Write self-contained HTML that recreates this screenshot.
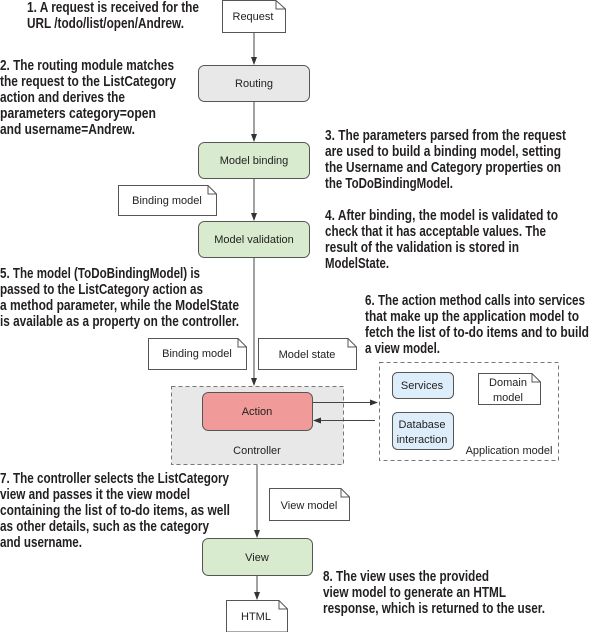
<!DOCTYPE html>
<html><head><meta charset="utf-8"><style>
html,body{margin:0;padding:0;background:#fff;}
svg{display:block}
.t{font-family:"Liberation Sans",sans-serif;font-weight:bold;font-size:14.5px;fill:#231f20}
.n{font-family:"Liberation Sans",sans-serif;font-size:11px;fill:#222}
</style></head><body>
<svg width="590" height="632" viewBox="0 0 590 632" xmlns="http://www.w3.org/2000/svg">
<defs>
<marker id="a" markerWidth="8" markerHeight="8" refX="7" refY="4" orient="auto" markerUnits="userSpaceOnUse">
<path d="M0,1 L8,4 L0,7 z" fill="#333"/></marker>
</defs>
<g stroke="#444" stroke-width="1" fill="none">
<line x1="254" y1="32" x2="254" y2="64" marker-end="url(#a)"/>
<line x1="254" y1="102" x2="254" y2="141" marker-end="url(#a)"/>
<line x1="254" y1="178" x2="254" y2="220" marker-end="url(#a)"/>
<line x1="254" y1="257" x2="254" y2="385" marker-end="url(#a)"/>
<line x1="257" y1="464" x2="257" y2="537" marker-end="url(#a)"/>
<line x1="257" y1="575" x2="257" y2="599" marker-end="url(#a)"/>
</g>
<!-- boxes -->
<rect x="198.5" y="65.5" width="111" height="36" rx="6" fill="#e8e8e8" stroke="#555"/>
<rect x="198.5" y="142.5" width="111" height="36" rx="6" fill="#d9ebcf" stroke="#555"/>
<rect x="198.5" y="221.5" width="111" height="36" rx="6" fill="#d9ebcf" stroke="#555"/>
<rect x="171.5" y="386.5" width="172" height="78" fill="#e8e8e8" stroke="#777" stroke-dasharray="4,3"/>
<rect x="202.5" y="392.5" width="110" height="38" rx="6" fill="#f19a9a" stroke="#555"/>
<rect x="379.5" y="362.5" width="179" height="98" fill="#fff" stroke="#777" stroke-dasharray="4,3"/>
<rect x="392.5" y="372.5" width="61" height="26" rx="5" fill="#ddeefa" stroke="#555"/>
<rect x="392.5" y="412.5" width="61" height="37" rx="5" fill="#ddeefa" stroke="#555"/>
<rect x="202.5" y="538.5" width="110" height="37" rx="6" fill="#d9ebcf" stroke="#555"/>
<line x1="313" y1="402.5" x2="377" y2="402.5" stroke="#444" marker-end="url(#a)"/>
<line x1="375" y1="420.5" x2="314" y2="420.5" stroke="#444" marker-end="url(#a)"/>
<!-- notes -->
<g stroke="#555" stroke-width="1" fill="#fff">
<path d="M222.5,0.5 H276 L285.5,9 V32.5 H222.5 Z M276,0.5 V9 H285.5"/>
<path d="M118.5,185.5 H208 L216.5,194 V215.5 H118.5 Z M208,185.5 V194 H216.5"/>
<path d="M148.5,338.5 H238 L246.5,347 V369.5 H148.5 Z M238,338.5 V347 H246.5"/>
<path d="M258.5,338.5 H348 L356.5,347 V369.5 H258.5 Z M348,338.5 V347 H356.5"/>
<path d="M478.5,373.5 H532 L540.5,382 V404.5 H478.5 Z M532,373.5 V382 H540.5"/>
<path d="M269.5,488.5 H341 L349.5,497 V520.5 H269.5 Z M341,488.5 V497 H349.5"/>
<path d="M226.5,600.5 H279 L287.5,609 V632 H226.5 Z M279,600.5 V609 H287.5"/>
</g>
<!-- node labels -->
<g class="n" text-anchor="middle">
<text x="253" y="20">Request</text>
<text x="254" y="87">Routing</text>
<text x="254" y="164">Model binding</text>
<text x="254" y="243">Model validation</text>
<text x="167" y="204">Binding model</text>
<text x="197" y="357">Binding model</text>
<text x="307" y="358">Model state</text>
<text x="257" y="415">Action</text>
<text x="257" y="454">Controller</text>
<text x="422" y="389">Services</text>
<text x="422" y="428">Database</text>
<text x="422" y="443">interaction</text>
<text x="508" y="386">Domain</text>
<text x="508" y="401">model</text>
<text x="509" y="454">Application model</text>
<text x="309" y="509">View model</text>
<text x="257" y="561">View</text>
<text x="256" y="620">HTML</text>
</g>
<!-- explanatory text -->
<g class="t" lengthAdjust="spacingAndGlyphs">
<text x="27" y="12" textLength="172" lengthAdjust="spacingAndGlyphs">1. A request is received for the</text>
<text x="27" y="28" textLength="157" lengthAdjust="spacingAndGlyphs">URL /todo/list/open/Andrew.</text>
<text x="0" y="70" textLength="174" lengthAdjust="spacingAndGlyphs">2. The routing module matches</text>
<text x="0" y="86" textLength="176" lengthAdjust="spacingAndGlyphs">the request to the ListCategory</text>
<text x="0" y="102" textLength="125" lengthAdjust="spacingAndGlyphs">action and derives the</text>
<text x="0" y="118" textLength="156" lengthAdjust="spacingAndGlyphs">parameters category=open</text>
<text x="0" y="134" textLength="135" lengthAdjust="spacingAndGlyphs">and username=Andrew.</text>
<text x="325" y="140" textLength="241" lengthAdjust="spacingAndGlyphs">3. The parameters parsed from the request</text>
<text x="325" y="156" textLength="236" lengthAdjust="spacingAndGlyphs">are used to build a binding model, setting</text>
<text x="325" y="172" textLength="236" lengthAdjust="spacingAndGlyphs">the Username and Category properties on</text>
<text x="325" y="188" textLength="128" lengthAdjust="spacingAndGlyphs">the ToDoBindingModel.</text>
<text x="325" y="220" textLength="233" lengthAdjust="spacingAndGlyphs">4. After binding, the model is validated to</text>
<text x="325" y="236" textLength="221" lengthAdjust="spacingAndGlyphs">check that it has acceptable values. The</text>
<text x="325" y="252" textLength="194" lengthAdjust="spacingAndGlyphs">result of the validation is stored in</text>
<text x="325" y="268" textLength="64" lengthAdjust="spacingAndGlyphs">ModelState.</text>
<text x="0" y="278" textLength="200" lengthAdjust="spacingAndGlyphs">5. The model (ToDoBindingModel) is</text>
<text x="0" y="294" textLength="203" lengthAdjust="spacingAndGlyphs">passed to the ListCategory action as</text>
<text x="0" y="310" textLength="239" lengthAdjust="spacingAndGlyphs">a method parameter, while the ModelState</text>
<text x="0" y="326" textLength="239" lengthAdjust="spacingAndGlyphs">is available as a property on the controller.</text>
<text x="365" y="305" textLength="220" lengthAdjust="spacingAndGlyphs">6. The action method calls into services</text>
<text x="365" y="321" textLength="214" lengthAdjust="spacingAndGlyphs">that make up the application model to</text>
<text x="365" y="337" textLength="224" lengthAdjust="spacingAndGlyphs">fetch the list of to-do items and to build</text>
<text x="365" y="353" textLength="75" lengthAdjust="spacingAndGlyphs">a view model.</text>
<text x="0" y="483" textLength="229" lengthAdjust="spacingAndGlyphs">7. The controller selects the ListCategory</text>
<text x="0" y="499" textLength="190" lengthAdjust="spacingAndGlyphs">view and passes it the view model</text>
<text x="0" y="515" textLength="230" lengthAdjust="spacingAndGlyphs">containing the list of to-do items, as well</text>
<text x="0" y="531" textLength="209" lengthAdjust="spacingAndGlyphs">as other details, such as the category</text>
<text x="0" y="547" textLength="82" lengthAdjust="spacingAndGlyphs">and username.</text>
<text x="323" y="581" textLength="166" lengthAdjust="spacingAndGlyphs">8. The view uses the provided</text>
<text x="323" y="597" textLength="183" lengthAdjust="spacingAndGlyphs">view model to generate an HTML</text>
<text x="323" y="613" textLength="222" lengthAdjust="spacingAndGlyphs">response, which is returned to the user.</text>
</g>
</svg>
</body></html>
